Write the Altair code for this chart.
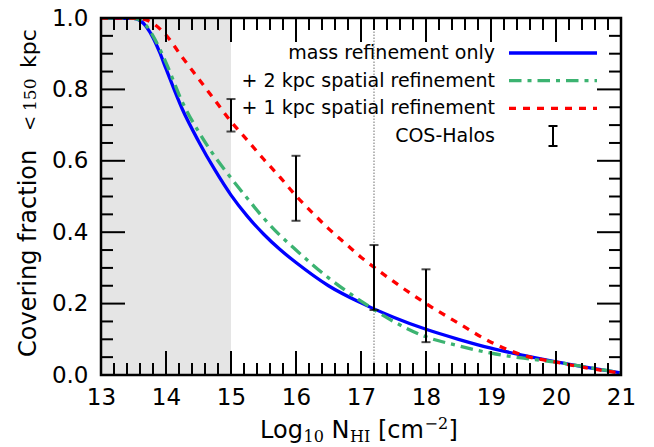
import altair as alt
import pandas as pd

# ---------------- data ----------------
series_names = ["mass refinement only", "+ 2 kpc spatial refinement", "+ 1 kpc spatial refinement"]
series_colors = ["#0000ff", "#3cb371", "#ff0000"]

blue_x = [13.0, 13.5, 13.6, 13.7, 13.8, 13.9, 14.0, 14.25, 14.5, 14.75, 15.0, 15.25, 15.5, 15.75,
          16.0, 16.5, 17.0, 17.5, 18.0, 18.5, 19.0, 19.5, 20.0, 20.5, 21.0]
blue_y = [1.0, 0.999, 0.993, 0.975, 0.945, 0.905, 0.858, 0.745, 0.655, 0.575, 0.504, 0.445, 0.395, 0.352,
          0.315, 0.250, 0.202, 0.162, 0.128, 0.100, 0.075, 0.055, 0.037, 0.021, 0.006]

green_x = [13.0, 13.5, 13.6, 13.7, 13.8, 13.9, 14.0, 14.25, 14.5, 14.75, 15.0, 15.25, 15.5, 15.75,
           16.0, 16.5, 17.0, 17.5, 18.0, 18.5, 19.0, 19.5, 20.0, 20.5, 21.0]
green_y = [1.0, 0.999, 0.994, 0.978, 0.950, 0.915, 0.875, 0.765, 0.682, 0.612, 0.552, 0.495, 0.440, 0.392,
           0.350, 0.272, 0.207, 0.150, 0.107, 0.082, 0.061, 0.047, 0.036, 0.021, 0.006]

red_x = [13.0, 13.5, 13.65, 13.8, 14.0, 14.25, 14.5, 14.75, 15.0, 15.25, 15.5, 15.75, 16.0, 16.25,
         16.5, 16.75, 17.0, 17.25, 17.5, 17.75, 18.0, 18.5, 19.0, 19.5, 20.0, 20.5, 21.0]
red_y = [1.0, 1.0, 0.997, 0.985, 0.952, 0.890, 0.830, 0.770, 0.710, 0.658, 0.605, 0.555, 0.502, 0.455,
         0.410, 0.370, 0.330, 0.295, 0.262, 0.230, 0.200, 0.145, 0.092, 0.055, 0.036, 0.019, 0.005]

obs_label = "COS-Halos"
obs_x = [15.0, 16.0, 17.2, 18.0]
obs_lo = [0.682, 0.432, 0.182, 0.092]
obs_hi = [0.773, 0.614, 0.364, 0.296]

shade_x = [13.0, 15.0]
vline_x = [17.2]

x_major = [13, 14, 15, 16, 17, 18, 19, 20, 21]
y_major = [0.0, 0.2, 0.4, 0.6, 0.8, 1.0]
x_minor = [13.2, 13.4, 13.6, 13.8, 14.2, 14.4, 14.6, 14.8, 15.2, 15.4, 15.6, 15.8, 16.2, 16.4, 16.6, 16.8,
           17.2, 17.4, 17.6, 17.8, 18.2, 18.4, 18.6, 18.8, 19.2, 19.4, 19.6, 19.8, 20.2, 20.4, 20.6, 20.8]
y_minor = [0.05, 0.1, 0.15, 0.25, 0.3, 0.35, 0.45, 0.5, 0.55, 0.65, 0.7, 0.75, 0.85, 0.9, 0.95]

# ---------------- layout ----------------
W, H = 520, 357
X0, X1, Y0, Y1 = 13.0, 21.0, 0.0, 1.0
SANS = "DejaVu Sans"
SERIF = "DejaVu Serif"
MAJ, MIN = 24, 12

xs = alt.Scale(domain=[X0, X1], nice=False, zero=False)
ys = alt.Scale(domain=[Y0, Y1], nice=False, zero=False)
common_ax = dict(title=None, domain=False, ticks=False, tickSize=0, grid=False, labelFont=SANS,
                 labelFontSize=23, labelColor="black", labelFlush=False, labelOverlap=False, labelBound=False)
xax = alt.Axis(values=x_major, labelPadding=11, **common_ax)
yax = alt.Axis(values=y_major, format=".1f", labelPadding=13, **common_ax)


def X(f):
    return alt.X(f"{f}:Q", scale=xs, axis=xax)


def Y(f):
    return alt.Y(f"{f}:Q", scale=ys, axis=yax)


layers = []

# shaded region
shade_df = pd.DataFrame({"x0": [shade_x[0]], "x1": [shade_x[1]], "y0": [Y0], "y1": [Y1]})
layers.append(alt.Chart(shade_df).mark_rect(color="#e5e5e5").encode(
    x=X("x0"), x2="x1", y=Y("y0"), y2="y1"))

# dotted vertical line
vl_df = pd.DataFrame({"x": vline_x, "y0": [Y0], "y1": [Y1]})
layers.append(alt.Chart(vl_df).mark_rule(color="#a0a0a0", strokeDash=[1.5, 1.5], strokeWidth=1.5).encode(
    x=X("x"), y=Y("y0"), y2="y1"))

# curves
dashes = [None, [12.5, 6, 4, 6], [7, 7]]
for name, col, dash, xv, yv in zip(series_names, series_colors, dashes,
                                     [blue_x, green_x, red_x], [blue_y, green_y, red_y]):
    df = pd.DataFrame({"x": xv, "y": yv, "s": name})
    kw = dict(color=col, strokeWidth=3.3, interpolate="monotone", clip=True, strokeCap="butt")
    if dash:
        kw["strokeDash"] = dash
    layers.append(alt.Chart(df).mark_line(**kw).encode(x=X("x"), y=Y("y"), order="x:Q"))

# error bars
obs_df = pd.DataFrame({"x": obs_x, "lo": obs_lo, "hi": obs_hi})
layers.append(alt.Chart(obs_df).mark_rule(color="black", strokeWidth=2).encode(
    x=X("x"), y=Y("lo"), y2="hi"))
layers.append(alt.Chart(obs_df).mark_tick(color="black", orient="horizontal", size=9, thickness=2).encode(
    x=X("x"), y=Y("lo")))
layers.append(alt.Chart(obs_df).mark_tick(color="black", orient="horizontal", size=9, thickness=2).encode(
    x=X("x"), y=Y("hi")))

# frame
one = pd.DataFrame({"k": [0]})
layers.append(alt.Chart(one).mark_rect(filled=False, stroke="black", strokeWidth=2.5).encode(
    x=alt.value(0), x2=alt.value(W), y=alt.value(0), y2=alt.value(H)))

# legend (manual, labels to the left of handles)
row_y = [35, 62.7, 90.4, 118]
for i, (name, col, dash) in enumerate(zip(series_names, series_colors, dashes)):
    d = pd.DataFrame({"t": [name]})
    layers.append(alt.Chart(d).mark_text(font=SANS, fontSize=19, align="right", baseline="middle",
                                         color="black").encode(
        text="t:N", x=alt.value(394), y=alt.value(row_y[i])))
    kw = dict(color=col, strokeWidth=3.3, strokeCap="butt")
    if dash:
        kw["strokeDash"] = dash
    layers.append(alt.Chart(d).mark_rule(**kw).encode(
        x=alt.value(408), x2=alt.value(496), y=alt.value(row_y[i])))

d = pd.DataFrame({"t": [obs_label]})
layers.append(alt.Chart(d).mark_text(font=SANS, fontSize=19, align="right", baseline="middle",
                                     color="black").encode(text="t:N", x=alt.value(394), y=alt.value(row_y[3])))
layers.append(alt.Chart(d).mark_rule(color="black", strokeWidth=2).encode(
    x=alt.value(452), y=alt.value(row_y[3] - 10), y2=alt.value(row_y[3] + 10)))
for dy in (-10, 10):
    layers.append(alt.Chart(d).mark_rule(color="black", strokeWidth=2).encode(
        x=alt.value(447.5), x2=alt.value(456.5), y=alt.value(row_y[3] + dy)))

# x-axis title: Log_10 N_HI [cm^-2]
xt_base = 420
xt_pieces = [("Log", SANS, 24, 159, 0), ("10", SERIF, 16, 202.5, 4), ("N", SANS, 24, 230.5, 0),
             ("HI", SERIF, 16, 249, 4), ("[cm", SANS, 24, 277, 0), ("\u22122", SERIF, 16, 323.5, -9),
             ("]", SANS, 24, 347.5, 0)]
for t, f, fs, pxx, dy in xt_pieces:
    layers.append(alt.Chart(pd.DataFrame({"t": [t]})).mark_text(
        font=f, fontSize=fs, align="left", baseline="alphabetic", color="black").encode(
        text="t:N", x=alt.value(pxx), y=alt.value(xt_base + dy)))

# y-axis title: Covering fraction <150 kpc (rotated)
yt_base = -65
yt_pieces = [("Covering fraction", SANS, 24, 339), ("<", SERIF, 18, 113), ("150", SERIF, 17, 93),
             ("kpc", SANS, 22, 50)]
for t, f, fs, pyy in yt_pieces:
    layers.append(alt.Chart(pd.DataFrame({"t": [t]})).mark_text(
        font=f, fontSize=fs, align="left", baseline="alphabetic", angle=270, color="black").encode(
        text="t:N", x=alt.value(yt_base), y=alt.value(pyy)))

# inward ticks on all four sides, drawn last, as segments in data units through the shared scales
rows = []
for vals, L in ((x_major, MAJ), (x_minor, MIN)):
    dy = L / H * (Y1 - Y0)
    for v in vals:
        rows.append((float(v), float(v), Y0, Y0 + dy))
        rows.append((float(v), float(v), Y1 - dy, Y1))
for vals, L in ((y_major, MAJ), (y_minor, MIN)):
    dx = L / W * (X1 - X0)
    for v in vals:
        rows.append((X0, X0 + dx, float(v), float(v)))
        rows.append((X1 - dx, X1, float(v), float(v)))
tick_df = pd.DataFrame(rows, columns=["tx", "tx2", "ty", "ty2"])
layers.append(alt.Chart(tick_df).mark_rule(color="#000000", strokeWidth=2).encode(
    x=X("tx"), x2="tx2:Q", y=Y("ty"), y2="ty2:Q"))

chart = alt.layer(*layers).properties(
    width=W, height=H,
    padding={"left": 93, "top": 10, "right": 20, "bottom": 80},
    autosize=alt.AutoSizeParams(type="none"),
).configure_view(stroke=None)

chart.save("out.html", embed_options={"renderer": "svg", "actions": False})
